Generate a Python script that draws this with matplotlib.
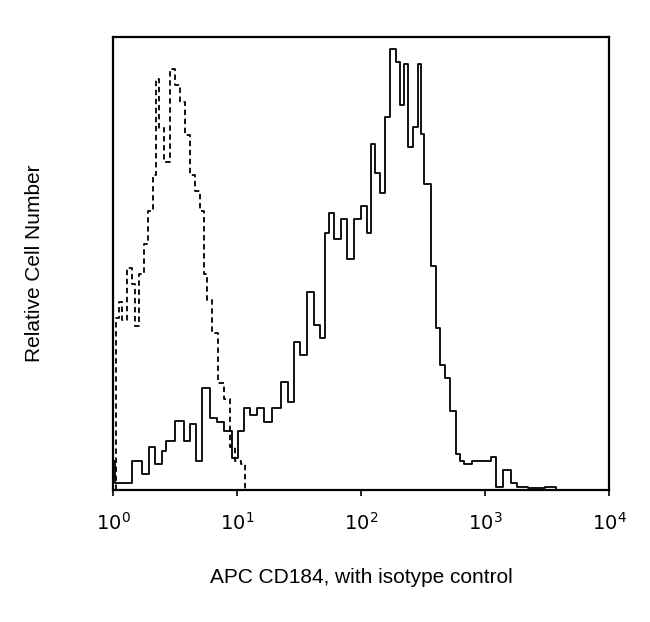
import matplotlib
matplotlib.use("Agg")
import matplotlib.pyplot as plt
import numpy as np

plt.rcParams["font.family"] = ["Liberation Sans", "DejaVu Sans"]

# Solid: APC CD184 (log10 fluorescence, relative count 0-100)
cd184_log = [0.0, 0.03, 0.11, 0.19, 0.27, 0.31, 0.37, 0.41, 0.45, 0.54, 0.60, 0.64, 0.69,
             0.75, 0.81, 0.87, 0.92, 0.99, 1.03, 1.08, 1.13, 1.19, 1.24, 1.32, 1.38, 1.44,
             1.48, 1.54, 1.59, 1.65, 1.69, 1.73, 1.75, 1.81, 1.86, 1.91, 1.97, 2.02, 2.07,
             2.09, 2.13, 2.17, 2.21, 2.26, 2.30, 2.33, 2.36, 2.40, 2.44, 2.47, 2.49, 2.52,
             2.60, 2.61, 2.66, 2.69, 2.74, 2.79, 2.81, 2.85, 2.93, 3.02, 3.07, 3.11, 3.18,
             3.23, 3.29, 3.39, 3.56, 3.58]
cd184_cnt = [6.5, 1.5, 1.5, 6.5, 3.7, 9.6, 5.9, 8.8, 11.0, 15.5, 11.0, 14.7, 6.5, 22.7,
             16.1, 15.3, 13.1, 7.2, 13.1, 18.3, 16.8, 18.3, 15.3, 18.3, 24.2, 19.7, 33.1,
             30.2, 44.2, 36.8, 33.9, 57.4, 61.9, 56.0, 60.4, 51.5, 60.4, 63.3, 57.4, 77.2,
             70.7, 66.3, 83.2, 98.5, 95.6, 85.9, 95.0, 76.6, 80.9, 95.0, 79.4, 68.3, 50.1,
             36.1, 28.0, 25.0, 17.7, 8.1, 6.6, 5.9, 6.6, 6.6, 7.4, 0.7, 4.4, 1.5, 0.7, 0.4,
             0.6, 0.0]

# Dashed: isotype control
iso_log = [0.02, 0.03, 0.06, 0.09, 0.13, 0.17, 0.19, 0.23, 0.26, 0.30, 0.34, 0.35, 0.39,
           0.43, 0.48, 0.52, 0.56, 0.60, 0.64, 0.68, 0.72, 0.74, 0.78, 0.82, 0.87, 0.92,
           0.96, 1.01, 1.05, 1.07]
iso_cnt = [0.0, 38.3, 42.0, 38.0, 49.5, 46.0, 36.5, 48.3, 54.9, 62.3, 70.4, 91.8, 80.7,
           73.3, 93.9, 90.3, 86.6, 79.2, 70.4, 66.7, 62.3, 48.3, 42.4, 35.0, 24.0, 20.3,
           9.6, 6.6, 5.9, 0.0]

fig, ax = plt.subplots(figsize=(6.5, 6.22), dpi=100)
fig.subplots_adjust(left=0.174, right=0.937, top=0.94, bottom=0.212)

ax.plot(10 ** np.array(cd184_log), cd184_cnt, color="black", lw=1.3, drawstyle="steps-mid")
ax.plot(10 ** np.array(iso_log), iso_cnt, color="black", lw=1.3, ls=(0, (3, 2)),
        drawstyle="steps-mid")

ax.set_xscale("log")
ax.set_xlim(1, 1e4)
ax.set_ylim(0, 101)
ax.set_yticks([])
ax.set_xticks([1, 10, 100, 1000, 10000])
ax.set_xticklabels([r"$10^0$", r"$10^1$", r"$10^2$", r"$10^3$", r"$10^4$"])
ax.minorticks_off()
ax.tick_params(axis="x", labelsize=14, length=4, width=1.2, pad=12)
for s in ax.spines.values():
    s.set_linewidth(1.6)

ax.set_xlabel("APC CD184, with isotype control", fontsize=15, labelpad=24)
ax.set_ylabel("Relative Cell Number", fontsize=15, labelpad=50)

fig.savefig("out.png", dpi=100)
